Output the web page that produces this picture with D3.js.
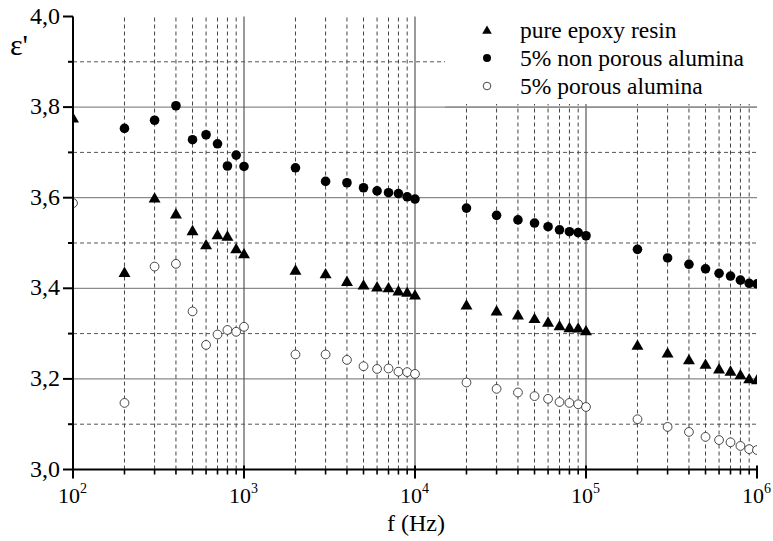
<!DOCTYPE html>
<html><head><meta charset="utf-8">
<script src="https://cdn.jsdelivr.net/npm/d3@7"></script>
<style>body{margin:0;background:#fff}svg{display:block}</style>
</head><body>
<svg id="c" width="773" height="541"></svg>
<script>
const freqs = [100,200,300,400,500,600,700,800,900,
  1000,2000,3000,4000,5000,6000,7000,8000,9000,
  10000,20000,30000,40000,50000,60000,70000,80000,90000,
  100000,200000,300000,400000,500000,600000,700000,800000,900000,1000000];
const epoxy = [3.776,3.435,3.599,3.564,3.527,3.496,3.518,3.515,3.487,
  3.476,3.440,3.432,3.415,3.407,3.403,3.401,3.394,3.391,
  3.385,3.363,3.350,3.341,3.333,3.325,3.317,3.313,3.312,
  3.306,3.274,3.257,3.242,3.232,3.222,3.217,3.209,3.200,3.198];
const nonPorous = [null,3.753,3.771,3.803,3.728,3.739,3.719,3.670,3.694,
  3.669,3.666,3.636,3.633,3.622,3.615,3.611,3.609,3.602,
  3.597,3.577,3.561,3.551,3.544,3.536,3.529,3.525,3.523,
  3.516,3.486,3.467,3.453,3.443,3.433,3.427,3.418,3.411,3.410];
const porous = [3.588,3.147,3.448,3.454,3.349,3.275,3.298,3.308,3.304,
  3.315,3.254,3.254,3.242,3.228,3.222,3.223,3.216,3.215,
  3.211,3.192,3.178,3.170,3.162,3.156,3.149,3.147,3.144,
  3.138,3.111,3.094,3.083,3.072,3.065,3.060,3.052,3.045,3.043];
const seriesNames = ["pure epoxy resin","5% non porous alumina","5% porous alumina"];
const yMajor = [3.0,3.2,3.4,3.6,3.8,4.0];
const yMinor = [3.1,3.3,3.5,3.7,3.9];
const xDecades = [2,3,4,5,6];

const FF = "Liberation Serif";
const svg = d3.select("#c").style("font-family", FF);
const x = d3.scaleLog().domain([100,1e6]).range([73,757]);
const y = d3.scaleLinear().domain([3,4]).range([469.5,16.5]);
const [x0,x1] = x.range(), [y0,y1] = y.range();

const minorX = [];
for (let d=2; d<6; d++) for (let m=2; m<=9; m++) minorX.push(m*Math.pow(10,d));

const grid = svg.append("g");
grid.selectAll(".hs").data(yMajor.filter(v=>v>3 && v<4)).join("line")
  .attr("x1",x0).attr("x2",x1).attr("y1",d=>y(d)).attr("y2",d=>y(d))
  .attr("stroke","#8a8a8a").attr("stroke-width",1.3);
grid.selectAll(".hd").data(yMinor).join("line")
  .attr("x1",x0).attr("x2",x1).attr("y1",d=>y(d)).attr("y2",d=>y(d))
  .attr("stroke","#555").attr("stroke-width",1).attr("stroke-dasharray","4,3");
grid.selectAll(".vs").data([1e3,1e4,1e5]).join("line")
  .attr("x1",d=>x(d)).attr("x2",d=>x(d)).attr("y1",y0).attr("y2",y1)
  .attr("stroke","#555").attr("stroke-width",1.2);
grid.selectAll(".vd").data(minorX).join("line")
  .attr("x1",d=>x(d)).attr("x2",d=>x(d)).attr("y1",y0).attr("y2",y1)
  .attr("stroke","#444").attr("stroke-width",1).attr("stroke-dasharray","4,3");

// legend background
svg.append("rect").attr("x",445).attr("y",0).attr("width",328).attr("height",104).attr("fill","#fff");
svg.append("line").attr("x1",445).attr("x2",x1).attr("y1",y(3.8)).attr("y2",y(3.8))
  .attr("stroke","#8a8a8a").attr("stroke-width",1.3);

svg.append("clipPath").attr("id","clip").append("rect")
  .attr("x",x0).attr("y",y1-10).attr("width",x1-x0).attr("height",y0-y1+10);
const marks = svg.append("g").attr("clip-path","url(#clip)");

const tri = d3.symbol().type(d3.symbolTriangle).size(62);
const pts = (vals)=>freqs.map((f,i)=>({f,v:vals[i]})).filter(d=>d.v!=null);

marks.selectAll(".t").data(pts(epoxy)).join("path")
  .attr("d",tri).attr("transform",d=>`translate(${x(d.f)},${y(d.v)+1})`).attr("fill","#000");
marks.selectAll(".f").data(pts(nonPorous)).join("circle")
  .attr("cx",d=>x(d.f)).attr("cy",d=>y(d.v)).attr("r",4.8).attr("fill","#000");
marks.selectAll(".o").data(pts(porous)).join("circle")
  .attr("cx",d=>x(d.f)).attr("cy",d=>y(d.v)).attr("r",4.4).attr("fill","#fff")
  .attr("stroke","#333").attr("stroke-width",0.9);

const ax = svg.append("g");
ax.append("line").attr("x1",x0).attr("x2",x0).attr("y1",y0+1).attr("y2",y1).attr("stroke","#000").attr("stroke-width",2);
ax.append("line").attr("x1",x0-1).attr("x2",x1+1).attr("y1",y0).attr("y2",y0).attr("stroke","#000").attr("stroke-width",2);
ax.selectAll(".ym").data(yMajor).join("line")
  .attr("x1",x0-10).attr("x2",x0).attr("y1",d=>y(d)).attr("y2",d=>y(d)).attr("stroke","#000").attr("stroke-width",2);
ax.selectAll(".yn").data(yMinor).join("line")
  .attr("x1",x0-5).attr("x2",x0).attr("y1",d=>y(d)).attr("y2",d=>y(d)).attr("stroke","#000").attr("stroke-width",2);
ax.selectAll(".xm").data(xDecades.map(d=>Math.pow(10,d))).join("line")
  .attr("x1",d=>x(d)).attr("x2",d=>x(d)).attr("y1",y0-4).attr("y2",y0+9).attr("stroke","#000").attr("stroke-width",2);
ax.selectAll(".xn").data(minorX).join("line")
  .attr("x1",d=>x(d)).attr("x2",d=>x(d)).attr("y1",y0).attr("y2",y0+5).attr("stroke","#000").attr("stroke-width",1.6);

ax.selectAll(".yl").data(yMajor).join("text")
  .attr("x",60).attr("y",d=>y(d)+7).attr("text-anchor","end")
  .style("font-family",FF).style("font-size","24px").attr("fill","#000")
  .text(d=>d.toFixed(1).replace(".",","));
const xl = ax.selectAll(".xl").data(xDecades).join("text")
  .attr("x",d=>x(Math.pow(10,d))-15).attr("y",503)
  .style("font-family",FF).style("font-size","22px").attr("fill","#000");
xl.append("tspan").text("10");
xl.append("tspan").attr("dy",-10).style("font-size","14px").text(d=>d);

svg.append("text").attr("x",416).attr("y",531).attr("text-anchor","middle")
  .style("font-family",FF).style("font-size","24px").text("f (Hz)");
svg.append("text").attr("x",10).attr("y",55)
  .style("font-family",FF).style("font-size","30px").text("ε'");

const lg = svg.append("g");
const ly = [30,58,86];
lg.append("path").attr("d",d3.symbol().type(d3.symbolTriangle).size(40))
  .attr("transform",`translate(487,${ly[0]+1})`).attr("fill","#000");
lg.append("circle").attr("cx",487).attr("cy",ly[1]).attr("r",4).attr("fill","#000");
lg.append("circle").attr("cx",487).attr("cy",ly[2]).attr("r",3.8).attr("fill","#fff").attr("stroke","#333").attr("stroke-width",0.9);
lg.selectAll(".lt").data(seriesNames).join("text")
  .attr("x",520).attr("y",(d,i)=>ly[i]+8).style("font-family",FF).style("font-size","23.5px").attr("fill","#000")
  .text(d=>d);
</script>
</body></html>
